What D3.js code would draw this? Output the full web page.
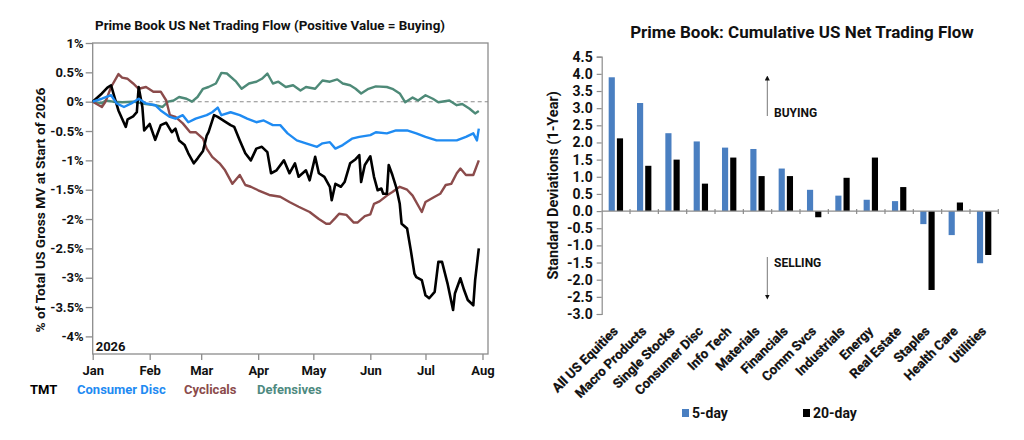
<!DOCTYPE html>
<html>
<head>
<meta charset="utf-8">
<script src="https://cdn.jsdelivr.net/npm/d3@7"></script>
<style>
  body { margin: 0; background: #fff; }
  svg { display: block; }
  text { font-family: Roboto, "Noto Sans", sans-serif; font-weight: 700; }
</style>
</head>
<body>
<svg id="chart" width="1024" height="440"></svg>
<script>
// ---- left panel: cumulative flow, % of gross MV ----
const tmt = [
  ['01-01', 0.00], ['01-06', 0.14], ['01-09', 0.24], ['01-11', 0.28], ['01-13', 0.06],
  ['01-15', -0.15], ['01-19', -0.43], ['01-20', -0.30], ['01-23', -0.25], ['01-25', -0.18],
  ['01-26', 0.25], ['01-28', -0.09], ['01-29', -0.49], ['02-01', -0.38], ['02-04', -0.65],
  ['02-07', -0.40], ['02-10', -0.36], ['02-13', -0.52], ['02-15', -0.46], ['02-17', -0.66],
  ['02-20', -0.74], ['02-22', -0.88], ['02-25', -1.05], ['02-27', -0.97], ['03-02', -0.84],
  ['03-04', -0.58], ['03-05', -0.52], ['03-08', -0.23], ['03-10', -0.26], ['03-14', -0.34],
  ['03-17', -0.40], ['03-19', -0.43], ['03-22', -0.66], ['03-25', -0.88], ['03-28', -1.00],
  ['03-31', -0.80], ['04-03', -0.77], ['04-06', -0.86], ['04-08', -1.22], ['04-11', -1.17],
  ['04-15', -1.00], ['04-18', -1.22], ['04-21', -1.05], ['04-23', -1.28], ['04-27', -1.17],
  ['04-29', -1.34], ['05-02', -0.94], ['05-04', -1.22], ['05-07', -1.28], ['05-10', -1.45],
  ['05-11', -1.68], ['05-13', -1.40], ['05-16', -1.45], ['05-18', -1.37], ['05-21', -1.05],
  ['05-24', -0.98], ['05-26', -0.91], ['05-27', -1.37], ['05-29', -1.08], ['06-01', -0.93],
  ['06-03', -1.28], ['06-05', -1.51], ['06-07', -1.48], ['06-08', -1.57], ['06-10', -1.57],
  ['06-11', -1.08], ['06-13', -1.25], ['06-15', -1.45], ['06-17', -1.74], ['06-18', -2.08],
  ['06-21', -2.16], ['06-23', -2.53], ['06-25', -2.93], ['06-26', -2.99], ['06-29', -3.04],
  ['07-01', -3.30], ['07-03', -3.35], ['07-06', -3.24], ['07-08', -2.73], ['07-10', -2.73],
  ['07-13', -3.10], ['07-16', -3.55], ['07-17', -3.27], ['07-20', -3.01], ['07-22', -3.21],
  ['07-24', -3.38], ['07-27', -3.47], ['07-28', -3.04], ['07-30', -2.50]
]
const consumerDisc = [
  ['01-01', 0.00], ['01-06', 0.05], ['01-11', 0.11], ['01-14', -0.03], ['01-18', -0.09],
  ['01-22', -0.03], ['01-26', 0.05], ['01-30', -0.03], ['02-04', -0.06], ['02-07', -0.15],
  ['02-12', -0.26], ['02-15', -0.29], ['02-19', -0.23], ['02-22', -0.35], ['02-26', -0.29],
  ['03-04', -0.23], ['03-07', -0.18], ['03-10', -0.10], ['03-12', -0.23], ['03-17', -0.18],
  ['03-22', -0.23], ['03-26', -0.29], ['03-31', -0.35], ['04-04', -0.32], ['04-09', -0.40],
  ['04-13', -0.40], ['04-17', -0.54], ['04-22', -0.66], ['04-27', -0.71], ['05-03', -0.77],
  ['05-06', -0.71], ['05-10', -0.69], ['05-13', -0.80], ['05-17', -0.74], ['05-22', -0.63],
  ['05-26', -0.60], ['06-01', -0.57], ['06-04', -0.52], ['06-10', -0.54], ['06-15', -0.49],
  ['06-21', -0.49], ['06-26', -0.54], ['07-01', -0.60], ['07-07', -0.66], ['07-12', -0.66],
  ['07-18', -0.66], ['07-23', -0.60], ['07-27', -0.54], ['07-29', -0.66], ['07-30', -0.46]
]
const cyclicals = [
  ['01-01', 0.00], ['01-06', -0.09], ['01-08', 0.00], ['01-11', 0.25], ['01-15', 0.47],
  ['01-17', 0.41], ['01-20', 0.39], ['01-23', 0.31], ['01-26', 0.22], ['01-30', 0.25],
  ['02-03', 0.17], ['02-07', 0.17], ['02-10', 0.02], ['02-12', -0.23], ['02-15', -0.26],
  ['02-19', -0.37], ['02-23', -0.52], ['02-26', -0.52], ['03-02', -0.63], ['03-04', -0.80],
  ['03-07', -0.94], ['03-11', -1.05], ['03-14', -1.17], ['03-18', -1.40], ['03-22', -1.25],
  ['03-25', -1.42], ['03-28', -1.45], ['04-01', -1.51], ['04-07', -1.59], ['04-13', -1.62],
  ['04-18', -1.71], ['04-23', -1.79], ['04-29', -1.88], ['05-04', -2.00], ['05-08', -2.08],
  ['05-10', -2.08], ['05-13', -1.98], ['05-15', -1.91], ['05-19', -1.93], ['05-23', -2.06],
  ['05-25', -2.06], ['05-29', -1.95], ['06-01', -1.92], ['06-03', -1.74], ['06-06', -1.70],
  ['06-10', -1.60], ['06-13', -1.54], ['06-17', -1.45], ['06-21', -1.50], ['06-24', -1.60],
  ['06-29', -1.88], ['07-01', -1.71], ['07-06', -1.62], ['07-09', -1.57], ['07-12', -1.42],
  ['07-15', -1.40], ['07-18', -1.22], ['07-20', -1.14], ['07-23', -1.25], ['07-27', -1.25],
  ['07-30', -1.00]
]
const defensives = [
  ['01-01', 0.00], ['01-06', -0.03], ['01-08', 0.02], ['01-12', 0.00], ['01-17', -0.01],
  ['01-23', 0.00], ['01-28', -0.03], ['02-04', -0.06], ['02-08', -0.09], ['02-11', 0.00],
  ['02-14', 0.02], ['02-17', 0.08], ['02-21', 0.05], ['02-24', 0.00], ['02-27', 0.08],
  ['03-02', 0.22], ['03-05', 0.25], ['03-09', 0.31], ['03-12', 0.49], ['03-15', 0.48],
  ['03-20', 0.34], ['03-23', 0.22], ['03-27', 0.31], ['03-31', 0.34], ['04-03', 0.39],
  ['04-06', 0.48], ['04-09', 0.31], ['04-12', 0.34], ['04-16', 0.25], ['04-20', 0.28],
  ['04-24', 0.19], ['04-27', 0.25], ['05-02', 0.22], ['05-06', 0.36], ['05-10', 0.34],
  ['05-14', 0.38], ['05-17', 0.31], ['05-21', 0.28], ['05-24', 0.22], ['05-27', 0.14],
  ['05-31', 0.22], ['06-04', 0.26], ['06-10', 0.25], ['06-13', 0.22], ['06-17', 0.14],
  ['06-20', -0.01], ['06-24', 0.07], ['06-27', 0.02], ['07-01', 0.11], ['07-05', 0.05],
  ['07-08', -0.01], ['07-14', 0.02], ['07-18', -0.06], ['07-21', -0.04], ['07-25', -0.12],
  ['07-28', -0.20], ['07-30', -0.16]
]
const flowTicks = [1, 0.5, 0, -0.5, -1, -1.5, -2, -2.5, -3, -3.5, -4]
const monthLabels = ['Jan', 'Feb', 'Mar', 'Apr', 'May', 'Jun', 'Jul', 'Aug']

// ---- right panel: z-scores by sector ----
const sectors = ['All US Equities', 'Macro Products', 'Single Stocks', 'Consumer Disc', 'Info Tech',
  'Materials', 'Financials', 'Comm Svcs', 'Industrials', 'Energy', 'Real Estate', 'Staples',
  'Health Care', 'Utilities']
const fiveDay = [3.90, 3.15, 2.27, 2.03, 1.85, 1.81, 1.24, 0.62, 0.45, 0.33, 0.29, -0.38, -0.70, -1.52]
const twentyDay = [2.12, 1.32, 1.50, 0.80, 1.56, 1.02, 1.02, -0.18, 0.97, 1.56, 0.70, -2.30, 0.25, -1.28]
const zTicks = [4.5, 4, 3.5, 3, 2.5, 2, 1.5, 1, 0.5, 0, -0.5, -1, -1.5, -2, -2.5, -3]

const svg = d3.select('#chart')
const parse = d3.timeParse('%Y-%m-%d')
const axisGrey = '#8c8c8c'
const arial = '"Liberation Sans", Arial, sans-serif'

drawFlows()
drawSectors()

function drawFlows() {
  const left = 92.7, right = 488, top = 43, bottom = 354
  const x = d3.scaleTime()
    .domain([new Date(2026, 0, 1), new Date(2026, 7, 4)])
    .range([left, right])
  const y = d3.scaleLinear().domain([-4.3, 1]).range([bottom, top])

  svg.append('text')
    .attr('x', 270).attr('y', 30)
    .attr('text-anchor', 'middle')
    .attr('font-size', 13.5)
    .attr('textLength', 350).attr('lengthAdjust', 'spacingAndGlyphs')
    .attr('fill', '#111')
    .text('Prime Book US Net Trading Flow (Positive Value = Buying)')

  svg.append('rect')
    .attr('x', left).attr('y', top)
    .attr('width', right - left).attr('height', bottom - top)
    .attr('fill', 'none').attr('stroke', axisGrey).attr('stroke-width', 1.3)

  const yAxis = svg.append('g')
    .attr('transform', `translate(${left},0)`)
    .call(d3.axisLeft(y).tickValues(flowTicks).tickSize(7).tickPadding(2)
      .tickFormat(d => String(d) + '%'))
  yAxis.select('.domain').remove()
  yAxis.selectAll('line').attr('stroke', axisGrey).attr('stroke-width', 1.3)
  yAxis.selectAll('text').attr('font-size', 13).attr('fill', '#111')
    .attr('font-family', 'Roboto, sans-serif').attr('font-weight', 700)

  const months = monthLabels.map((m, i) => new Date(2026, i, 1))
  const xAxis = svg.append('g')
    .attr('transform', `translate(0,${bottom})`)
    .call(d3.axisBottom(x).tickValues(months).tickSize(6).tickPadding(6)
      .tickFormat((d, i) => monthLabels[i]))
  xAxis.select('.domain').remove()
  xAxis.selectAll('line').attr('stroke', axisGrey).attr('stroke-width', 1.3)
  xAxis.selectAll('text').attr('font-size', 13).attr('fill', '#111')
    .attr('font-family', 'Roboto, sans-serif').attr('font-weight', 700)

  svg.append('line')
    .attr('x1', left).attr('x2', right)
    .attr('y1', y(0)).attr('y2', y(0))
    .attr('stroke', '#8a8a8a').attr('stroke-width', 1.1)
    .attr('stroke-dasharray', '4,3')

  svg.append('text')
    .attr('x', left + 3).attr('y', bottom - 3)
    .attr('font-size', 13).attr('fill', '#111')
    .text('2026')

  svg.append('text')
    .attr('transform', 'translate(45,210) rotate(-90)')
    .attr('text-anchor', 'middle')
    .attr('font-size', 13)
    .attr('textLength', 245).attr('lengthAdjust', 'spacingAndGlyphs')
    .attr('fill', '#111')
    .text('% of Total US Gross MV at Start of 2026')

  const series = [
    { name: 'Defensives', data: defensives, color: '#4e8a78' },
    { name: 'Cyclicals', data: cyclicals, color: '#8b4b4b' },
    { name: 'TMT', data: tmt, color: '#000000' },
    { name: 'Consumer Disc', data: consumerDisc, color: '#1f8bf2' }
  ]
  const line = d3.line()
    .x(d => x(parse('2026-' + d[0])))
    .y(d => y(d[1]))

  svg.append('g').selectAll('path')
    .data(series)
    .enter()
    .append('path')
    .attr('d', s => line(s.data))
    .attr('fill', 'none')
    .attr('stroke', s => s.color)
    .attr('stroke-width', s => s.name === 'TMT' ? 2.6 : 2.4)
    .attr('stroke-linejoin', 'round')

  const legend = [
    { name: 'TMT', color: '#000000', x: 30 },
    { name: 'Consumer Disc', color: '#1f8bf2', x: 77 },
    { name: 'Cyclicals', color: '#8b4b4b', x: 184 },
    { name: 'Defensives', color: '#4e8a80', x: 257 }
  ]
  svg.append('g').selectAll('text')
    .data(legend)
    .enter()
    .append('text')
    .attr('x', d => d.x).attr('y', 394)
    .attr('font-size', 13)
    .attr('fill', d => d.color)
    .text(d => d.name)
}

function drawSectors() {
  const left = 601.7, right = 998.3, top = 56.7, bottom = 314
  const x = d3.scaleBand().domain(sectors).range([left, right])
  const inner = d3.scaleBand().domain(['5-day', '20-day'])
    .range([0, x.bandwidth()]).paddingInner(0.25).paddingOuter(0.85)
  const y = d3.scaleLinear().domain([-3, 4.5]).range([bottom, top])

  svg.append('text')
    .attr('x', 802).attr('y', 38)
    .attr('text-anchor', 'middle')
    .attr('font-size', 17).attr('fill', '#111')
    .text('Prime Book: Cumulative US Net Trading Flow')

  const yAxis = svg.append('g')
    .attr('transform', `translate(${left},0)`)
    .call(d3.axisLeft(y).tickValues(zTicks).tickSize(5).tickPadding(4)
      .tickFormat(d => d.toFixed(1)))
  yAxis.selectAll('line, path').attr('stroke', axisGrey).attr('stroke-width', 1.2)
  yAxis.selectAll('text').attr('font-size', 14).attr('fill', '#111')
    .attr('font-family', arial).attr('font-weight', 700)

  svg.append('text')
    .attr('transform', `translate(558,${(top + bottom) / 2}) rotate(-90)`)
    .attr('text-anchor', 'middle')
    .attr('font-size', 14.5).attr('fill', '#111')
    .text('Standard Deviations (1-Year)')

  const bars = []
  sectors.forEach((s, i) => {
    bars.push({ sector: s, key: '5-day', value: fiveDay[i] })
    bars.push({ sector: s, key: '20-day', value: twentyDay[i] })
  })
  const colors = { '5-day': '#4a7fc1', '20-day': '#000000' }

  svg.append('g').selectAll('rect')
    .data(bars)
    .enter()
    .append('rect')
    .attr('x', d => x(d.sector) + inner(d.key))
    .attr('width', inner.bandwidth())
    .attr('y', d => y(Math.max(0, d.value)))
    .attr('height', d => Math.abs(y(d.value) - y(0)))
    .attr('fill', d => colors[d.key])

  // zero line with category separators
  svg.append('line')
    .attr('x1', left).attr('x2', right)
    .attr('y1', y(0)).attr('y2', y(0))
    .attr('stroke', axisGrey).attr('stroke-width', 1.2)
  svg.append('g').selectAll('line')
    .data(sectors)
    .enter()
    .append('line')
    .attr('x1', d => x(d) + x.bandwidth()).attr('x2', d => x(d) + x.bandwidth())
    .attr('y1', y(0) - 2).attr('y2', y(0) + 3)
    .attr('stroke', axisGrey).attr('stroke-width', 1.2)

  svg.append('g').selectAll('text')
    .data(sectors)
    .enter()
    .append('text')
    .attr('transform', d => `translate(${x(d) + x.bandwidth() / 2 + 3},${bottom + 18}) rotate(-45)`)
    .attr('text-anchor', 'end')
    .attr('font-size', 13.2).attr('fill', '#111')
    .attr('font-family', arial)
    .attr('stroke', '#111').attr('stroke-width', 0.25)
    .text(d => d)

  // buying / selling annotations
  const arrowX = 767.3
  const defs = svg.append('defs')
  defs.append('marker')
    .attr('id', 'head').attr('viewBox', '0 0 10 10')
    .attr('refX', 5).attr('refY', 5)
    .attr('markerWidth', 5).attr('markerHeight', 5)
    .attr('orient', 'auto-start-reverse')
    .append('path').attr('d', 'M0,0L10,5L0,10Z').attr('fill', '#111')

  svg.append('line')
    .attr('x1', arrowX).attr('x2', arrowX).attr('y1', 116).attr('y2', 78)
    .attr('stroke', '#777').attr('stroke-width', 1)
    .attr('marker-end', 'url(#head)')
  svg.append('line')
    .attr('x1', arrowX).attr('x2', arrowX).attr('y1', 257).attr('y2', 297)
    .attr('stroke', '#777').attr('stroke-width', 1)
    .attr('marker-end', 'url(#head)')
  svg.append('text')
    .attr('x', 774).attr('y', 117)
    .attr('font-size', 12).attr('fill', '#111')
    .attr('font-family', arial)
    .text('BUYING')
  svg.append('text')
    .attr('x', 774).attr('y', 267)
    .attr('font-size', 12).attr('fill', '#111')
    .attr('font-family', arial)
    .text('SELLING')

  const legend = [
    { key: '5-day', x: 682 },
    { key: '20-day', x: 803 }
  ]
  const lg = svg.append('g').selectAll('g')
    .data(legend)
    .enter()
    .append('g')
  lg.append('rect')
    .attr('x', d => d.x).attr('y', 409)
    .attr('width', 7).attr('height', 8)
    .attr('fill', d => colors[d.key])
  lg.append('text')
    .attr('x', d => d.x + 10).attr('y', 417.5)
    .attr('font-size', 14).attr('fill', '#111')
    .text(d => d.key)
}
</script>
</body>
</html>
